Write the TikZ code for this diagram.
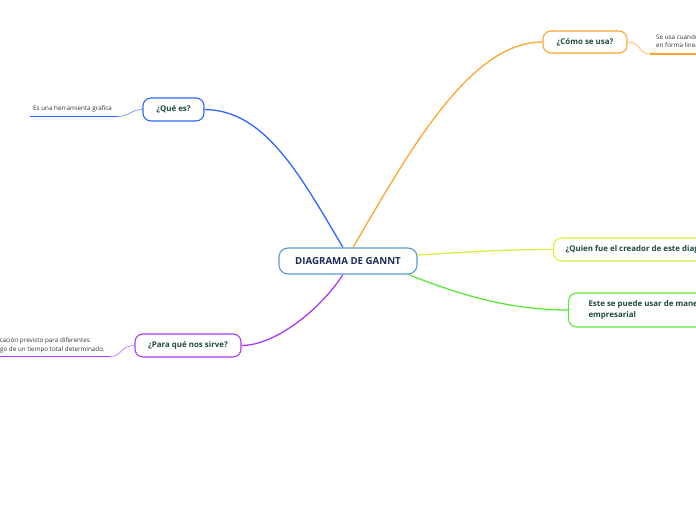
\documentclass[tikz,border=0pt]{standalone}
\usepackage{fontspec}
\setmainfont{Open Sans}
\usetikzlibrary{backgrounds,calc}
\definecolor{cblue}{HTML}{2F66FF}
\definecolor{corange}{HTML}{FFA42E}
\definecolor{cyellow}{HTML}{D8F23C}
\definecolor{cgreen}{HTML}{5EE83A}
\definecolor{cpurple}{HTML}{A93BF5}
\definecolor{cborder}{HTML}{5B9BD5}
\definecolor{cnavy}{HTML}{1C2B57}
\definecolor{ctext}{HTML}{1E4A3C}
\definecolor{csmall}{HTML}{333333}
\begin{document}
\begin{tikzpicture}[x=1pt,y=-1pt,
  centralbox/.style={draw=cborder, fill=white, rounded corners=9pt, line width=1.1pt,
    font=\fontsize{9.7}{11}\selectfont\bfseries, text=cnavy, inner sep=0pt,
    minimum width=138pt, minimum height=26pt},
  topicbox/.style={fill=white, rounded corners=8pt, line width=1.1pt,
    font=\fontsize{7.9}{12.5}\selectfont\bfseries, text=ctext, inner sep=0pt,
    minimum height=23pt},
  smalltext/.style={font=\fontsize{6.3}{8}\selectfont, text=csmall, inner sep=0pt},
  branch/.style={line width=1.3pt},
  subline/.style={line width=0.7pt},
  underline/.style={line width=1.8pt}
]
\useasboundingbox (0,0) rectangle (696,520);
\clip (0,0) rectangle (696,520);

% central
\node[centralbox] (c) at (348,261) {DIAGRAMA DE GANNT};

% topics
\node[topicbox, draw=cblue, minimum width=61pt] (q) at (173.5,109.5) {¿Qué es?};
\node[topicbox, draw=corange, minimum width=84pt, minimum height=22pt] (u) at (585,42) {¿Cómo se usa?};
\node[topicbox, draw=cyellow, anchor=west, inner xsep=12pt] (w) at (553,249.5) {¿Quien fue el creador de este diagrama?};
\node[topicbox, draw=cgreen, anchor=west, inner xsep=20pt, minimum height=34pt, align=left] (e) at (568,310) {Este se puede usar de manera\\[-1pt]empresarial};
\node[topicbox, draw=cpurple, minimum width=106pt] (p) at (188,345.5) {¿Para qué nos sirve?};

% sub texts
\node[smalltext, anchor=base west] (qt) at (33,110) {Es una herramienta grafica};
\coordinate (qa) at (30,116.5);
\coordinate (qb) at (118,116.5);

\node[smalltext, anchor=base west] (ut1) at (656,39.5) {Se usa cuando se quiere representar tareas};
\node[smalltext, anchor=base west] (ut2) at (656,47.5) {en forma lineal en el tiempo};
\coordinate (ua) at (650,54);
\coordinate (ub) at (700,54);

\node[smalltext, anchor=base east] (pt1) at (90,342.5) {Su objetivo es exponer el tiempo de dedicación previsto para diferentes};
\node[smalltext, anchor=base east] (pt2) at (105,351) {tareas o actividades a lo largo de un tiempo total determinado.};
\coordinate (pa) at (-5,356.5);
\coordinate (pb) at (110,356.5);

\begin{scope}[on background layer]
  % main branches
  \draw[branch, cblue] ([xshift=-5pt]c.north) .. controls (300,175) and (265,110) .. (q.east);
  \draw[branch, corange] ([xshift=5pt]c.north) .. controls (410,150) and (470,42) .. (u.west);
  \draw[branch, cyellow] ([yshift=6pt]c.east) .. controls (470,252) and (500,249.5) .. (w.west);
  \draw[branch, cgreen] ([xshift=-9pt]c.south east) .. controls (460,295) and (510,310) .. (e.west);
  \draw[branch, cpurple] ([xshift=-5pt]c.south) .. controls (320,310) and (275,345.5) .. (p.east);
  % sub connectors
  \draw[subline, cblue!70] (q.west) .. controls +(-12,0) and +(12,0) .. (qb);
  \draw[underline, cblue] (qb) -- (qa);
  \draw[subline, corange!80] (u.east) .. controls +(14,0) and +(-12,0) .. (ua);
  \draw[underline, corange] (ua) -- (ub);
  \draw[subline, cpurple!70] (p.west) .. controls +(-14,0) and +(12,0) .. (pb);
  \draw[underline, cpurple] (pb) -- (pa);
\end{scope}
\end{tikzpicture}
\end{document}
